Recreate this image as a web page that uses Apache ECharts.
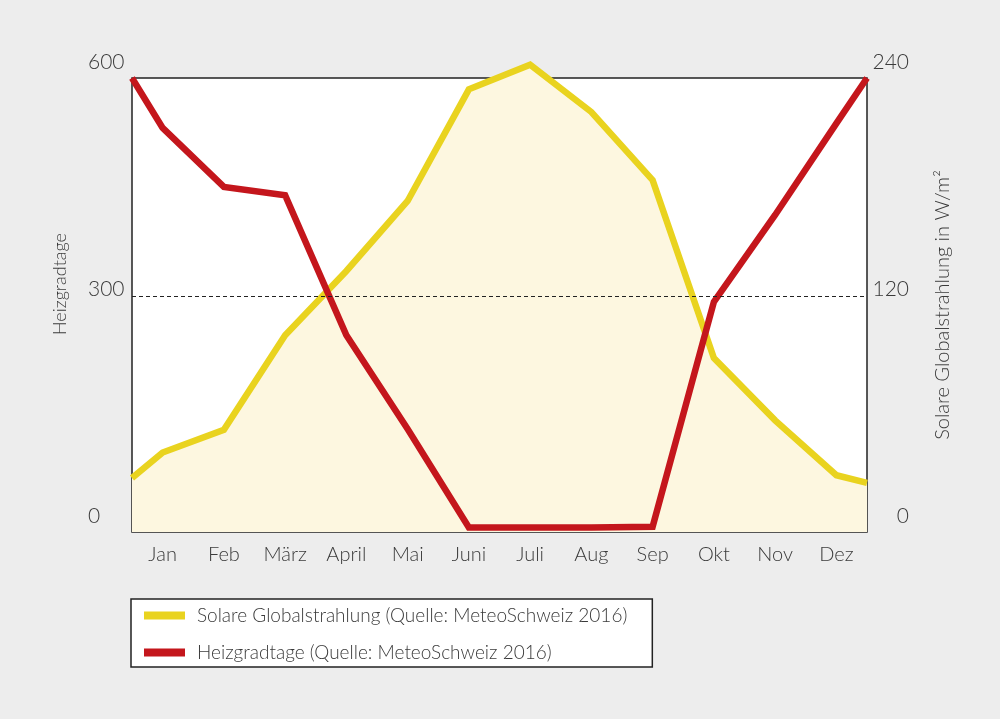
<!DOCTYPE html>
<html>
<head>
<meta charset="utf-8">
<script src="https://cdn.jsdelivr.net/npm/echarts@6/dist/echarts.min.js"></script>
<style>
  html, body { margin: 0; padding: 0; background: #ededed; }
  #main { width: 1000px; height: 719px; }
</style>
</head>
<body>
<div id="main"></div>
<script>
// Monatsnamen und Werte
const months = ['Jan', 'Feb', 'März', 'April', 'Mai', 'Juni', 'Juli', 'Aug', 'Sep', 'Okt', 'Nov', 'Dez'];
const solar = [42, 54, 104, 138, 175, 234, 247, 222, 186, 92, 59, 30];
const solarEdges = [28.5, 26];
const heat = [534, 456, 445, 260, 136, 6, 6, 6, 7, 304, 419, 540];
const heatEdges = [600, 600];
const heatTicks = [0, 300, 600];
const solarTicks = [0, 120, 240];
const refLine = 312; // gestrichelte Linie, leicht über 300 gezeichnet

const font = 'Lato, "Open Sans", sans-serif';
const textColor = '#3a3a3a';

// Punkte in der Monatsmitte, Anfang/Ende am Rand
const toPoints = (vals, edges) => [
  [0, edges[0]],
  ...vals.map((v, i) => [i + 0.5, v]),
  [12, edges[1]]
];

const chart = echarts.init(document.getElementById('main'));

chart.setOption({
  backgroundColor: '#ededed',
  animation: false,
  textStyle: { fontFamily: font, fontWeight: 300, color: textColor },
  grid: {
    left: 132, right: 133, top: 78, bottom: 187,
    show: true, backgroundColor: '#fff', borderColor: '#222', borderWidth: 1.5
  },
  legend: {
    orient: 'vertical',
    left: 131, top: 599,
    backgroundColor: '#fff',
    borderColor: '#222', borderWidth: 1.5,
    padding: [7, 25, 5, 13],
    itemGap: 18,
    itemWidth: 41, itemHeight: 8,
    icon: 'rect',
    textStyle: { fontFamily: font, fontWeight: 300, fontSize: 19, color: textColor, padding: [0, 0, 0, 7] },
    data: [
      'Solare Globalstrahlung (Quelle: MeteoSchweiz 2016)',
      'Heizgradtage (Quelle: MeteoSchweiz 2016)'
    ]
  },
  xAxis: {
    type: 'value', min: 0, max: 12, interval: 0.5,
    axisLine: { show: false }, axisTick: { show: false }, splitLine: { show: false },
    axisLabel: {
      margin: 13, fontSize: 20, fontFamily: font, fontWeight: 300, color: textColor,
      formatter: v => (v % 1 === 0.5 ? months[Math.floor(v)] : '')
    }
  },
  yAxis: [
    {
      type: 'value', min: 0, max: 600, interval: 300,
      name: 'Heizgradtage', nameLocation: 'middle', nameGap: 63, nameRotate: 90,
      nameTextStyle: { fontSize: 18, fontFamily: font, fontWeight: 300, color: textColor, padding: [0, 0, 0, 42] },
      axisLine: { show: false }, axisTick: { show: false }, splitLine: { show: false },
      axisLabel: {
        align: 'left', margin: 44, verticalAlign: 'bottom', padding: [0, 0, 5, 0],
        fontSize: 21, fontFamily: font, fontWeight: 300, color: textColor,
        formatter: v => (heatTicks.includes(v) ? String(v) : '')
      }
    },
    {
      type: 'value', min: 0, max: 240, interval: 120,
      name: 'Solare Globalstrahlung in W/m²', nameLocation: 'middle', nameGap: 66, nameRotate: 90,
      nameTextStyle: { fontSize: 20, fontFamily: font, fontWeight: 300, color: textColor },
      axisLine: { show: false }, axisTick: { show: false }, splitLine: { show: false },
      axisLabel: {
        align: 'right', margin: 42, verticalAlign: 'bottom', padding: [0, 0, 5, 0],
        fontSize: 21, fontFamily: font, fontWeight: 300, color: textColor,
        formatter: v => (solarTicks.includes(v) ? String(v) : '')
      }
    }
  ],
  series: [
    {
      name: 'Solare Globalstrahlung (Quelle: MeteoSchweiz 2016)',
      type: 'line', yAxisIndex: 1, clip: false,
      symbol: 'none', color: '#e9d31f',
      lineStyle: { width: 6.5, color: '#e9d31f', join: 'miter' },
      areaStyle: { color: '#fdf7e0', opacity: 1 },
      data: toPoints(solar, solarEdges)
    },
    {
      name: 'Heizgradtage (Quelle: MeteoSchweiz 2016)',
      type: 'line', yAxisIndex: 0, clip: false,
      symbol: 'none', color: '#c4161c',
      lineStyle: { width: 6.5, color: '#c4161c', join: 'miter' },
      data: toPoints(heat, heatEdges),
      markLine: {
        silent: true, symbol: 'none',
        label: { show: false },
        lineStyle: { color: '#222', width: 1, type: [4, 3] },
        data: [{ yAxis: refLine }]
      }
    }
  ]
});
</script>
</body>
</html>
